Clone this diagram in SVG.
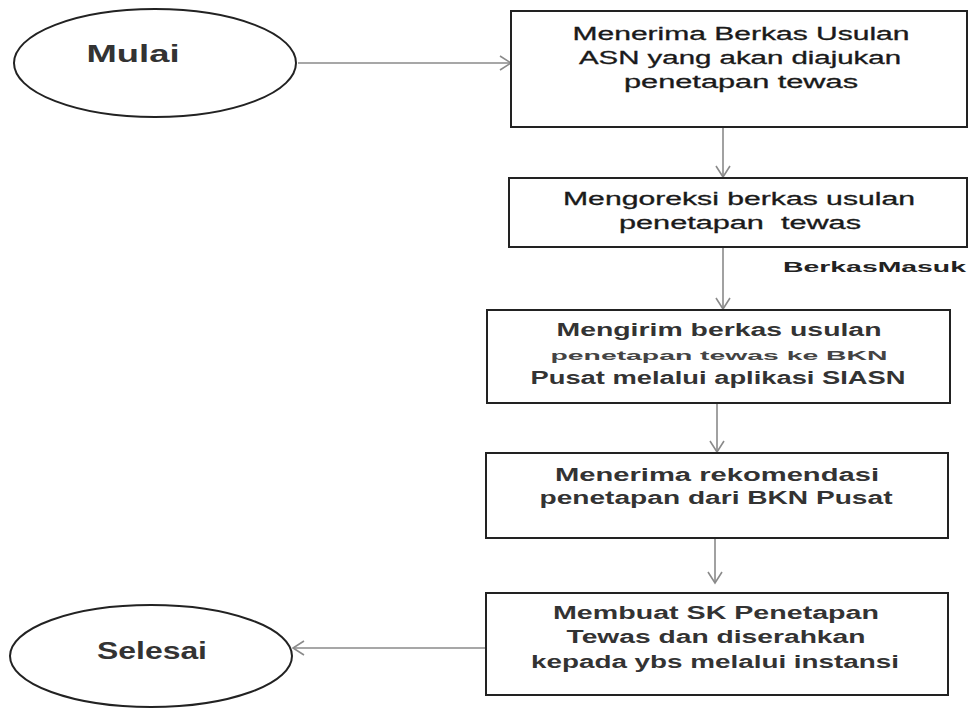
<svg xmlns="http://www.w3.org/2000/svg" width="971" height="709" viewBox="0 0 971 709">
<style>
.box{fill:#fff;stroke:#222;stroke-width:2}
.term{fill:#fff;stroke:#222;stroke-width:2}
.conn{stroke:#8a8a8a;stroke-width:1.6;fill:none}
.t1{font-family:"Liberation Sans",Arial,sans-serif;font-size:18px;fill:#1a1a1a;stroke:#1a1a1a;stroke-width:0.3;text-anchor:middle}
.t2{font-family:"Liberation Sans",Arial,sans-serif;font-size:18px;font-weight:bold;fill:#333;text-anchor:middle}
.ts{font-family:"Liberation Sans",Arial,sans-serif;font-size:13px;font-weight:bold;fill:#444;text-anchor:middle}
.lbl{font-family:"Liberation Sans",Arial,sans-serif;font-size:15px;font-weight:bold;fill:#222}
.tt{font-family:"Liberation Sans",Arial,sans-serif;font-size:23px;font-weight:bold;fill:#333;text-anchor:middle}
</style>
<defs>
<marker id="arr" markerUnits="userSpaceOnUse" markerWidth="14" markerHeight="18" refX="12" refY="8" orient="auto">
<path d="M1,1 L12,8 L1,15" fill="none" stroke="#8a8a8a" stroke-width="1.6"/>
</marker>
</defs>
<g id="connectors">
<line class="conn" x1="298" y1="63" x2="511" y2="63" marker-end="url(#arr)"/>
<line class="conn" x1="723" y1="127" x2="723" y2="177" marker-end="url(#arr)"/>
<line class="conn" x1="723" y1="248" x2="723" y2="309" marker-end="url(#arr)"/>
<line class="conn" x1="717" y1="404" x2="717" y2="452" marker-end="url(#arr)"/>
<line class="conn" x1="715" y1="539" x2="715" y2="583" marker-end="url(#arr)"/>
<line class="conn" x1="486" y1="648" x2="293" y2="648" marker-end="url(#arr)"/>
<text class="lbl" x="783" y="272" textLength="183" lengthAdjust="spacingAndGlyphs">BerkasMasuk</text>
</g>
<g id="mulai">
<ellipse class="term" cx="155" cy="63" rx="141" ry="54"/>
<text class="tt" x="133" y="62" textLength="93" lengthAdjust="spacingAndGlyphs">Mulai</text>
</g>
<g id="box1">
<rect class="box" x="511" y="11" width="456" height="116"/>
<text class="t1" x="741" y="40" textLength="337" lengthAdjust="spacingAndGlyphs">Menerima Berkas Usulan</text>
<text class="t1" x="740" y="64" textLength="322" lengthAdjust="spacingAndGlyphs">ASN yang akan diajukan</text>
<text class="t1" x="741" y="88" textLength="234" lengthAdjust="spacingAndGlyphs">penetapan tewas</text>
</g>
<g id="box2">
<rect class="box" x="509" y="178" width="458" height="69"/>
<text class="t1" x="739" y="205" textLength="352" lengthAdjust="spacingAndGlyphs">Mengoreksi berkas usulan</text>
<text class="t1" x="740" y="229" textLength="242" lengthAdjust="spacingAndGlyphs" xml:space="preserve">penetapan  tewas</text>
</g>
<g id="box3">
<rect class="box" x="487" y="310" width="463" height="93"/>
<text class="t2" x="719" y="336" textLength="325" lengthAdjust="spacingAndGlyphs">Mengirim berkas usulan</text>
<text class="ts" x="719" y="360" textLength="337" lengthAdjust="spacingAndGlyphs">penetapan tewas ke BKN</text>
<text class="t2" x="718" y="384" textLength="375" lengthAdjust="spacingAndGlyphs">Pusat melalui aplikasi SIASN</text>
</g>
<g id="box4">
<rect class="box" x="486" y="453" width="462" height="85"/>
<text class="t2" x="717" y="481" textLength="324" lengthAdjust="spacingAndGlyphs">Menerima rekomendasi</text>
<text class="t2" x="716" y="504" textLength="353" lengthAdjust="spacingAndGlyphs">penetapan dari BKN Pusat</text>
</g>
<g id="box5">
<rect class="box" x="486" y="593" width="462" height="102"/>
<text class="t2" x="716" y="619" textLength="326" lengthAdjust="spacingAndGlyphs">Membuat SK Penetapan</text>
<text class="t2" x="716" y="643" textLength="299" lengthAdjust="spacingAndGlyphs">Tewas dan diserahkan</text>
<text class="t2" x="715" y="668" textLength="368" lengthAdjust="spacingAndGlyphs">kepada ybs melalui instansi</text>
</g>
<g id="selesai">
<ellipse class="term" cx="151" cy="656" rx="141" ry="51"/>
<text class="tt" x="152" y="659" textLength="110" lengthAdjust="spacingAndGlyphs">Selesai</text>
</g>
</svg>
